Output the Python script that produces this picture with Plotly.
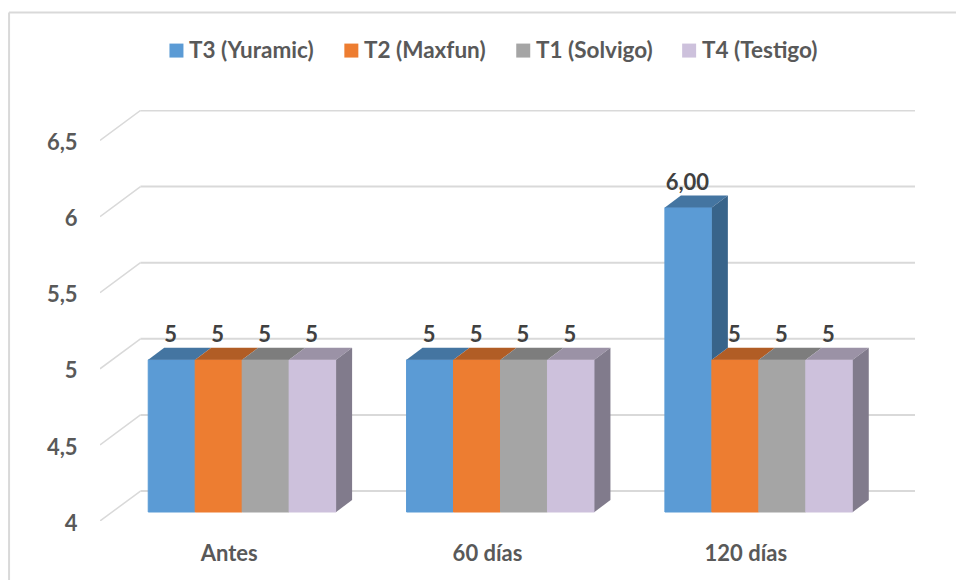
import plotly.graph_objects as go

# Data
categories = ["Antes", "60 días", "120 días"]
series_names = ["T3 (Yuramic)", "T2 (Maxfun)", "T1 (Solvigo)", "T4 (Testigo)"]
t3_values = [5, 5, 6]
t2_values = [5, 5, 5]
t1_values = [5, 5, 5]
t4_values = [5, 5, 5]
t3_labels = ["5", "5", "6,00"]
t2_labels = ["5", "5", "5"]
t1_labels = ["5", "5", "5"]
t4_labels = ["5", "5", "5"]
y_ticks = [4, 4.5, 5, 5.5, 6, 6.5]
y_tick_text = ["4", "4,5", "5", "5,5", "6", "6,5"]

# Styling
front_colors = ["#5B9BD5", "#ED7D31", "#A5A5A5", "#CDC1DC"]
top_colors = ["#4475A1", "#B15D25", "#7D7D7D", "#9B92A6"]
side_colors = ["#38648A", "#95501F", "#686868", "#817B8C"]
legend_swatch_px = [169, 344, 516, 682]
FONT = "Lato"
GRID = "#D9D9D9"

W, H = 956, 580
L, R, T, B = 99.5, 41, 109.5, 59
Y_MIN, Y_MAX = 4, 4 + (H - B - T) / 152.4
PX_X = 258.5
X_MIN, X_MAX = -0.5, -0.5 + (W - L - R) / PX_X
PX_Y = 152.4

# Oblique projection offsets, in axis units
WALL_DX, WALL_DY = 40.5 / PX_X, 30 / PX_Y
FRONT_DX, FRONT_DY = 13 / PX_X, 9 / PX_Y
DEPTH_DX, DEPTH_DY = 16 / PX_X, 12 / PX_Y
BAR_W = 47 / PX_X

values = [t3_values, t2_values, t1_values, t4_values]
labels = [t3_labels, t2_labels, t1_labels, t4_labels]
x_pos = list(range(len(categories)))


def bar_left(cat, k):
    return cat + FRONT_DX + (k - len(values) / 2) * BAR_W


fig = go.Figure()

# Front faces
for k, name in enumerate(series_names):
    fig.add_trace(go.Bar(
        x=x_pos,
        y=[v - Y_MIN for v in values[k]],
        base=Y_MIN + FRONT_DY,
        width=BAR_W,
        offset=FRONT_DX + (k - len(values) / 2) * BAR_W,
        name=name,
        showlegend=False,
        marker=dict(color=front_colors[k], line=dict(color=front_colors[k], width=1)),
        hoverinfo="skip",
    ))

# Value labels sit behind the side faces
for k, name in enumerate(series_names):
    fig.add_trace(go.Scatter(
        x=[bar_left(c, k) + BAR_W / 2 - 1 / PX_X for c in x_pos],
        y=[v + FRONT_DY + 23 / PX_Y for v in values[k]],
        mode="text",
        text=labels[k],
        textposition="middle center",
        textfont=dict(family=FONT, size=22, color="#404040", weight=700),
        showlegend=False,
        hoverinfo="skip",
    ))

# Top faces
for k in range(len(values)):
    for c in x_pos:
        x0 = bar_left(c, k)
        y0 = values[k][c] + FRONT_DY
        fig.add_trace(go.Scatter(
            x=[x0, x0 + BAR_W, x0 + BAR_W + DEPTH_DX, x0 + DEPTH_DX, x0],
            y=[y0, y0, y0 + DEPTH_DY, y0 + DEPTH_DY, y0],
            mode="lines", fill="toself", fillcolor=top_colors[k],
            line=dict(width=0), showlegend=False, hoverinfo="skip",
        ))

# Side faces: only the part rising above the neighbouring bar is visible
for k in range(len(values)):
    for c in x_pos:
        v = values[k][c]
        floor = values[k + 1][c] if k + 1 < len(values) else Y_MIN
        if v <= floor:
            continue
        x0 = bar_left(c, k) + BAR_W
        y0, y1 = floor + FRONT_DY, v + FRONT_DY
        fig.add_trace(go.Scatter(
            x=[x0, x0 + DEPTH_DX, x0 + DEPTH_DX, x0, x0],
            y=[y0, y0 + DEPTH_DY, y1 + DEPTH_DY, y1, y0],
            mode="lines", fill="toself", fillcolor=side_colors[k],
            line=dict(width=0), showlegend=False, hoverinfo="skip",
        ))

# Gridlines: a diagonal on the side wall, then straight along the back wall
shapes = []
for t in y_ticks:
    shapes.append(dict(type="line", layer="below", xref="x", yref="y",
                       x0=X_MIN, y0=t, x1=X_MIN + WALL_DX, y1=t + WALL_DY,
                       line=dict(color=GRID, width=1.5)))
    shapes.append(dict(type="line", layer="below", xref="x", yref="y",
                       x0=X_MIN + WALL_DX, y0=t + WALL_DY, x1=X_MAX, y1=t + WALL_DY,
                       line=dict(color=GRID, width=2)))

plot_w, plot_h = W - L - R, H - T - B


def paper_x(px):
    return (px - L) / plot_w


def paper_y(px):
    return 1 + (T - px) / plot_h


# Chart frame, open at the right and bottom
shapes.append(dict(type="line", xref="paper", yref="paper", layer="below",
                   x0=paper_x(8.5), y0=paper_y(12), x1=paper_x(8.5), y1=paper_y(H),
                   line=dict(color=GRID, width=2)))
shapes.append(dict(type="line", xref="paper", yref="paper", layer="below",
                   x0=paper_x(8.5), y0=paper_y(12), x1=paper_x(W), y1=paper_y(12),
                   line=dict(color=GRID, width=2)))

# Legend row with tight swatch-to-text spacing
annotations = []
for k, name in enumerate(series_names):
    sx = legend_swatch_px[k]
    shapes.append(dict(type="rect", xref="paper", yref="paper",
                       x0=paper_x(sx), x1=paper_x(sx + 14),
                       y0=paper_y(43), y1=paper_y(57),
                       fillcolor=front_colors[k], line=dict(width=0)))
    annotations.append(dict(xref="paper", yref="paper", x=paper_x(sx + 19), y=paper_y(49),
                            xanchor="left", yanchor="middle", showarrow=False, text=name,
                            borderpad=0,
                            font=dict(family=FONT, size=22.5, color="#595959", weight=700)))

fig.update_layout(
    width=W, height=H,
    margin=dict(l=L, r=R, t=T, b=B, pad=0),
    paper_bgcolor="white", plot_bgcolor="rgba(0,0,0,0)",
    barmode="overlay",
    shapes=shapes,
    annotations=annotations,
    showlegend=False,
    xaxis=dict(
        range=[X_MIN, X_MAX], tickmode="array", tickvals=x_pos, ticktext=categories,
        showgrid=False, zeroline=False, showline=False,
        ticks="outside", ticklen=13, tickcolor="rgba(0,0,0,0)",
        tickfont=dict(family=FONT, size=22, color="#595959", weight=700),
    ),
    yaxis=dict(
        range=[Y_MIN, Y_MAX], tickmode="array", tickvals=y_ticks, ticktext=y_tick_text,
        showgrid=False, zeroline=False, showline=False,
        ticks="outside", ticklen=17, tickcolor="rgba(0,0,0,0)", ticklabelshift=2,
        tickfont=dict(family=FONT, size=22, color="#595959", weight=700),
    ),
)

fig.write_html("out.html", config=dict(displayModeBar=False))
